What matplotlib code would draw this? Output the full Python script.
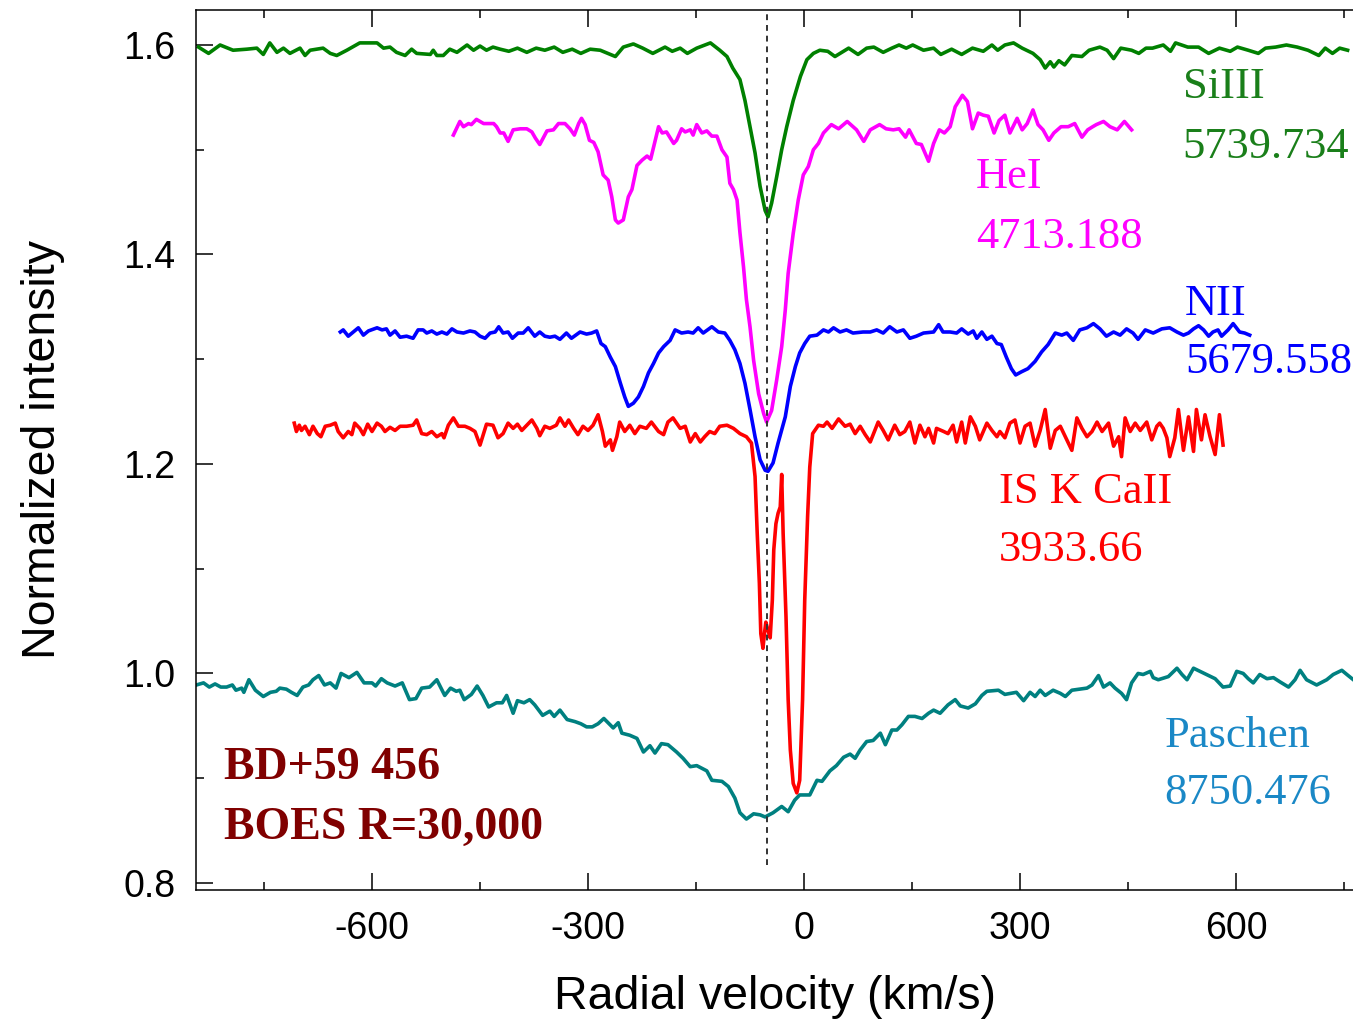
import matplotlib
matplotlib.use("Agg")
import matplotlib.pyplot as plt
from matplotlib.ticker import MultipleLocator

plt.rcParams['font.family'] = ['Liberation Sans', 'DejaVu Sans']
plt.rcParams['axes.unicode_minus'] = False

# SiIII 5739.734 (offset +0.6)
v_si = [-841, -827, -811, -793, -774, -760, -751, -742, -732, -723, -714, -700, -693, -686, -668, -658,
        -649, -635, -617, -593, -584, -575, -566, -554, -545, -538, -519, -515, -510, -501, -492, -482,
        -468, -459, -450, -441, -432, -422, -410, -398, -385, -372, -360, -347, -335, -322, -310, -297,
        -283, -262, -251, -237, -224, -210, -193, -183, -172, -162, -149, -130, -117, -107, -99, -89,
        -82, -75, -68, -61, -54, -50, -45, -38, -31, -24, -15, -5, 4, 13, 22, 33,
        43, 62, 75, 87, 97, 110, 122, 132, 142, 151, 166, 180, 190, 205, 219, 234,
        249, 261, 269, 279, 291, 303, 318, 328, 335, 342, 347, 354, 362, 372, 386, 396,
        411, 421, 430, 440, 455, 465, 475, 484, 499, 509, 516, 533, 548, 562, 577, 592,
        602, 617, 631, 641, 655, 670, 685, 700, 715, 724, 734, 744, 755]
i_si = [1.598, 1.592, 1.600, 1.595, 1.596, 1.597, 1.591, 1.602, 1.593, 1.597, 1.592, 1.597, 1.590, 1.595, 1.597, 1.592,
        1.590, 1.595, 1.602, 1.602, 1.597, 1.598, 1.593, 1.590, 1.596, 1.592, 1.591, 1.595, 1.590, 1.590, 1.596, 1.593,
        1.600, 1.595, 1.599, 1.595, 1.598, 1.596, 1.594, 1.597, 1.593, 1.597, 1.595, 1.598, 1.593, 1.596, 1.592, 1.596,
        1.595, 1.589, 1.598, 1.601, 1.597, 1.592, 1.598, 1.594, 1.597, 1.592, 1.597, 1.602, 1.595, 1.589, 1.578, 1.567,
        1.547, 1.522, 1.497, 1.465, 1.442, 1.436, 1.449, 1.474, 1.500, 1.522, 1.547, 1.570, 1.586, 1.592, 1.595, 1.594,
        1.589, 1.597, 1.591, 1.597, 1.598, 1.593, 1.597, 1.600, 1.597, 1.600, 1.595, 1.597, 1.591, 1.596, 1.591, 1.597,
        1.594, 1.600, 1.595, 1.600, 1.602, 1.597, 1.592, 1.586, 1.578, 1.584, 1.579, 1.585, 1.581, 1.590, 1.589, 1.595,
        1.598, 1.595, 1.587, 1.597, 1.595, 1.592, 1.597, 1.597, 1.600, 1.594, 1.602, 1.598, 1.598, 1.592, 1.597, 1.594,
        1.598, 1.595, 1.592, 1.597, 1.598, 1.600, 1.598, 1.595, 1.590, 1.597, 1.592, 1.597, 1.595]

# HeI 4713.188 (offset +0.52)
v_he = [-487, -478, -473, -466, -462, -455, -445, -431, -427, -422, -417, -411, -404, -394, -385, -378,
        -373, -367, -357, -348, -341, -332, -325, -319, -313, -309, -304, -298, -292, -286, -279, -272,
        -267, -262, -258, -251, -244, -239, -232, -225, -218, -213, -208, -202, -197, -191, -181, -177,
        -170, -165, -158, -154, -149, -142, -135, -128, -121, -114, -107, -103, -98, -93, -89, -84,
        -80, -75, -70, -63, -56, -52, -45, -38, -31, -26, -22, -15, -8, -1, 6, 13,
        20, 27, 38, 48, 60, 73, 83, 92, 105, 114, 124, 132, 141, 146, 156, 163,
        173, 180, 188, 195, 203, 210, 220, 227, 234, 242, 249, 256, 264, 271, 279, 286,
        296, 303, 310, 318, 325, 332, 340, 347, 357, 367, 376, 386, 394, 401, 406, 416,
        425, 435, 445, 455]
i_he = [1.514, 1.527, 1.522, 1.525, 1.524, 1.529, 1.525, 1.525, 1.522, 1.516, 1.516, 1.508, 1.519, 1.520, 1.520, 1.517,
        1.511, 1.505, 1.518, 1.519, 1.525, 1.525, 1.520, 1.514, 1.525, 1.530, 1.524, 1.509, 1.507, 1.498, 1.476, 1.471,
        1.455, 1.433, 1.430, 1.433, 1.455, 1.462, 1.485, 1.490, 1.494, 1.491, 1.505, 1.522, 1.516, 1.517, 1.506, 1.509,
        1.520, 1.517, 1.519, 1.514, 1.524, 1.516, 1.518, 1.513, 1.513, 1.500, 1.493, 1.468, 1.462, 1.452, 1.421, 1.388,
        1.357, 1.331, 1.299, 1.267, 1.248, 1.240, 1.251, 1.280, 1.312, 1.347, 1.382, 1.420, 1.452, 1.476, 1.484, 1.500,
        1.506, 1.516, 1.524, 1.520, 1.527, 1.519, 1.508, 1.519, 1.524, 1.520, 1.519, 1.520, 1.512, 1.519, 1.506, 1.505,
        1.489, 1.506, 1.519, 1.516, 1.522, 1.541, 1.552, 1.546, 1.520, 1.535, 1.533, 1.532, 1.516, 1.528, 1.533, 1.516,
        1.530, 1.519, 1.525, 1.538, 1.524, 1.519, 1.509, 1.516, 1.522, 1.522, 1.525, 1.512, 1.519, 1.522, 1.524, 1.527,
        1.522, 1.519, 1.527, 1.519]

# NII 5679.558 (offset +0.33)
v_n = [-644, -640, -633, -626, -619, -612, -605, -593, -586, -580, -575, -568, -561, -552, -543, -536,
       -529, -524, -517, -510, -503, -496, -489, -482, -473, -464, -457, -450, -443, -436, -429, -424,
       -418, -411, -405, -397, -390, -383, -374, -367, -360, -353, -346, -339, -330, -323, -311, -302,
       -295, -288, -282, -276, -269, -262, -255, -249, -244, -237, -230, -223, -216, -209, -202, -195,
       -186, -179, -170, -161, -154, -147, -140, -128, -119, -110, -103, -96, -89, -82, -75, -68,
       -61, -54, -50, -43, -36, -26, -19, -12, -6, 1, 8, 18, 27, 34, 41, 50,
       59, 68, 82, 92, 101, 110, 119, 129, 138, 147, 156, 166, 180, 187, 193, 203,
       212, 219, 228, 235, 240, 247, 254, 261, 268, 274, 281, 288, 294, 302, 311, 321,
       330, 339, 349, 358, 365, 374, 383, 393, 402, 411, 420, 430, 439, 448, 457, 464,
       474, 485, 497, 508, 518, 527, 534, 541, 548, 555, 562, 568, 575, 580, 589, 596,
       605, 612, 619]
i_n = [1.326, 1.328, 1.322, 1.326, 1.330, 1.323, 1.327, 1.330, 1.328, 1.329, 1.323, 1.327, 1.321, 1.322, 1.320, 1.328,
       1.328, 1.325, 1.327, 1.324, 1.326, 1.324, 1.329, 1.326, 1.325, 1.327, 1.326, 1.322, 1.320, 1.325, 1.326, 1.331,
       1.325, 1.326, 1.320, 1.325, 1.325, 1.330, 1.322, 1.326, 1.322, 1.321, 1.322, 1.319, 1.325, 1.320, 1.326, 1.324,
       1.325, 1.327, 1.315, 1.312, 1.302, 1.293, 1.277, 1.264, 1.255, 1.258, 1.264, 1.274, 1.287, 1.296, 1.306, 1.312,
       1.318, 1.328, 1.325, 1.326, 1.325, 1.330, 1.325, 1.331, 1.326, 1.325, 1.318, 1.309, 1.296, 1.277, 1.252, 1.226,
       1.204, 1.194, 1.193, 1.201, 1.220, 1.245, 1.274, 1.293, 1.306, 1.315, 1.322, 1.323, 1.328, 1.326, 1.330, 1.326,
       1.328, 1.325, 1.326, 1.326, 1.328, 1.325, 1.331, 1.326, 1.328, 1.320, 1.322, 1.325, 1.326, 1.333, 1.326, 1.326,
       1.325, 1.329, 1.324, 1.327, 1.320, 1.326, 1.319, 1.322, 1.315, 1.314, 1.302, 1.291, 1.285, 1.288, 1.291, 1.298,
       1.307, 1.314, 1.325, 1.323, 1.325, 1.318, 1.328, 1.330, 1.334, 1.329, 1.322, 1.326, 1.323, 1.329, 1.325, 1.319,
       1.328, 1.325, 1.329, 1.330, 1.326, 1.323, 1.325, 1.329, 1.332, 1.328, 1.322, 1.326, 1.328, 1.322, 1.328, 1.334,
       1.326, 1.325, 1.323]

# IS K CaII 3933.66 (offset +0.23)
v_ca = [-708, -705, -701, -698, -693, -687, -682, -676, -671, -665, -658, -651, -647, -640, -633, -628,
        -624, -617, -612, -606, -600, -593, -587, -582, -575, -568, -561, -552, -543, -538, -531, -524,
        -517, -510, -503, -500, -494, -487, -480, -471, -464, -457, -450, -441, -432, -425, -418, -411,
        -404, -398, -392, -385, -378, -371, -367, -360, -353, -344, -339, -332, -327, -320, -314, -307,
        -300, -293, -286, -280, -276, -269, -266, -260, -256, -249, -242, -235, -228, -219, -212, -202,
        -195, -189, -182, -172, -165, -158, -151, -144, -138, -131, -124, -117, -107, -98, -89, -80,
        -73, -68, -65, -62, -60, -57, -55, -53, -50, -47, -44, -42, -39, -36, -33, -31,
        -29, -25, -22, -19, -15, -10, -6, -2, 1, 5, 8, 12, 15, 20, 27, 32,
        39, 48, 57, 64, 71, 78, 85, 92, 103, 110, 117, 126, 133, 140, 147, 154,
        161, 168, 173, 180, 184, 194, 200, 207, 212, 219, 224, 231, 238, 244, 254, 261,
        268, 272, 279, 286, 293, 300, 307, 314, 321, 328, 335, 342, 349, 356, 365, 372,
        379, 386, 393, 400, 407, 414, 423, 430, 437, 441, 446, 453, 460, 467, 476, 483,
        490, 494, 499, 504, 508, 515, 520, 527, 534, 541, 545, 552, 557, 564, 571, 577,
        582]
i_ca = [1.239, 1.231, 1.237, 1.232, 1.236, 1.228, 1.236, 1.229, 1.226, 1.236, 1.237, 1.239, 1.231, 1.225, 1.231, 1.228,
        1.239, 1.234, 1.228, 1.238, 1.231, 1.239, 1.236, 1.231, 1.235, 1.232, 1.236, 1.236, 1.237, 1.242, 1.229, 1.228,
        1.231, 1.226, 1.229, 1.225, 1.237, 1.244, 1.236, 1.236, 1.234, 1.231, 1.218, 1.238, 1.237, 1.225, 1.229, 1.239,
        1.234, 1.238, 1.232, 1.237, 1.242, 1.234, 1.227, 1.236, 1.234, 1.237, 1.244, 1.236, 1.242, 1.234, 1.228, 1.236,
        1.232, 1.237, 1.247, 1.231, 1.217, 1.223, 1.213, 1.226, 1.240, 1.231, 1.237, 1.229, 1.236, 1.234, 1.240, 1.231,
        1.228, 1.240, 1.244, 1.234, 1.236, 1.221, 1.229, 1.221, 1.226, 1.231, 1.229, 1.236, 1.237, 1.234, 1.229, 1.226,
        1.220, 1.188, 1.134, 1.086, 1.038, 1.024, 1.038, 1.049, 1.041, 1.034, 1.070, 1.118, 1.143, 1.153, 1.159, 1.190,
        1.134, 1.054, 0.975, 0.927, 0.895, 0.886, 0.898, 0.975, 1.070, 1.150, 1.197, 1.229, 1.232, 1.237, 1.236, 1.240,
        1.234, 1.243, 1.236, 1.238, 1.229, 1.236, 1.228, 1.221, 1.240, 1.232, 1.223, 1.237, 1.228, 1.231, 1.240, 1.220,
        1.237, 1.226, 1.234, 1.220, 1.234, 1.231, 1.229, 1.237, 1.221, 1.240, 1.220, 1.245, 1.236, 1.223, 1.239, 1.232,
        1.226, 1.231, 1.225, 1.239, 1.242, 1.220, 1.236, 1.239, 1.217, 1.232, 1.252, 1.215, 1.232, 1.236, 1.223, 1.213,
        1.244, 1.234, 1.226, 1.231, 1.240, 1.231, 1.239, 1.217, 1.226, 1.207, 1.244, 1.231, 1.239, 1.232, 1.240, 1.223,
        1.236, 1.239, 1.234, 1.225, 1.207, 1.225, 1.252, 1.213, 1.245, 1.212, 1.252, 1.223, 1.247, 1.226, 1.209, 1.247,
        1.218]

# Paschen 8750.476
v_pa = [-844, -834, -826, -818, -810, -802, -794, -789, -781, -778, -771, -762, -751, -741, -733, -728,
        -719, -712, -704, -696, -688, -682, -674, -666, -658, -650, -643, -632, -621, -611, -600, -595,
        -587, -579, -568, -558, -548, -539, -531, -520, -510, -499, -491, -483, -478, -472, -462, -454,
        -446, -438, -427, -419, -413, -404, -398, -389, -381, -374, -363, -353, -347, -339, -329, -318,
        -310, -302, -294, -286, -278, -265, -258, -253, -242, -232, -223, -214, -207, -198, -189, -177,
        -168, -158, -149, -135, -128, -114, -105, -96, -89, -80, -70, -61, -54, -43, -31, -22,
        -13, -6, 8, 18, 25, 36, 45, 55, 64, 71, 78, 87, 96, 106, 113, 122,
        129, 136, 145, 154, 164, 173, 180, 189, 200, 210, 217, 228, 238, 247, 254, 270,
        279, 295, 305, 314, 321, 328, 335, 346, 356, 363, 372, 393, 400, 409, 416, 425,
        432, 441, 448, 455, 464, 471, 481, 485, 492, 506, 518, 525, 532, 541, 550, 559,
        571, 582, 592, 601, 610, 617, 624, 633, 643, 652, 661, 673, 682, 689, 698, 712,
        726, 735, 747, 754, 763]
i_pa = [0.989, 0.991, 0.987, 0.990, 0.987, 0.987, 0.989, 0.984, 0.986, 0.982, 0.994, 0.984, 0.978, 0.982, 0.983, 0.986,
        0.985, 0.982, 0.979, 0.987, 0.989, 0.994, 0.998, 0.989, 0.991, 0.986, 1.000, 0.996, 1.001, 0.991, 0.991, 0.988,
        0.995, 0.991, 0.988, 0.991, 0.975, 0.976, 0.986, 0.987, 0.994, 0.979, 0.986, 0.983, 0.984, 0.975, 0.980, 0.988,
        0.979, 0.968, 0.972, 0.972, 0.979, 0.962, 0.974, 0.972, 0.975, 0.970, 0.960, 0.964, 0.959, 0.965, 0.956, 0.954,
        0.952, 0.949, 0.949, 0.952, 0.957, 0.948, 0.953, 0.943, 0.941, 0.938, 0.925, 0.931, 0.924, 0.933, 0.932, 0.925,
        0.919, 0.911, 0.912, 0.907, 0.898, 0.897, 0.892, 0.881, 0.867, 0.861, 0.866, 0.865, 0.863, 0.867, 0.873, 0.868,
        0.879, 0.884, 0.884, 0.898, 0.897, 0.907, 0.912, 0.920, 0.923, 0.919, 0.927, 0.935, 0.936, 0.943, 0.932, 0.946,
        0.946, 0.951, 0.959, 0.959, 0.957, 0.962, 0.965, 0.962, 0.970, 0.975, 0.969, 0.967, 0.971, 0.979, 0.983, 0.984,
        0.980, 0.982, 0.974, 0.982, 0.978, 0.984, 0.979, 0.984, 0.981, 0.978, 0.984, 0.986, 0.989, 0.998, 0.987, 0.991,
        0.986, 0.981, 0.975, 0.991, 1.000, 0.999, 1.002, 0.996, 0.994, 0.997, 1.005, 0.999, 0.994, 1.005, 1.002, 0.999,
        0.995, 0.987, 0.988, 1.002, 1.000, 0.995, 0.991, 0.999, 0.995, 0.996, 0.992, 0.987, 0.994, 1.003, 0.994, 0.989,
        0.994, 0.999, 1.003, 0.999, 0.994]

v_rest = -51.4

fig = plt.figure(figsize=(13.53, 10.22), dpi=100)
ax = fig.add_axes([0.1449, 0.1292, 0.8551, 0.861])

ax.plot(v_pa, i_pa, color='#008080', lw=2.6)
ax.plot(v_ca, i_ca, color='#ff0000', lw=2.6)
ax.plot(v_n, i_n, color='#0000ff', lw=2.6)
ax.plot(v_he, i_he, color='#ff00ff', lw=2.6)
ax.plot(v_si, i_si, color='#008000', lw=2.6)
ax.plot([v_rest, v_rest], [0.817, 1.631], color='#333333', lw=1.4, linestyle=(0, (3, 2.5)))

ax.set_xlim(-844.4, 762.5)
ax.set_ylim(0.7933, 1.6334)

ax.xaxis.set_major_locator(MultipleLocator(300))
ax.xaxis.set_minor_locator(MultipleLocator(150))
ax.yaxis.set_major_locator(MultipleLocator(0.2))
ax.yaxis.set_minor_locator(MultipleLocator(0.1))
ax.tick_params(which='both', direction='in', top=True, right=False, width=1.1, labelsize=27)
ax.tick_params(which='major', length=12, pad=15)
ax.tick_params(which='minor', length=6)
ax.spines['right'].set_visible(False)
for s in ['left', 'bottom', 'top']:
    ax.spines[s].set_linewidth(1.1)

ax.set_xlabel("Radial velocity (km/s)", fontsize=33.5, labelpad=20)
ax.set_ylabel("Normalized intensity", fontsize=33.5, labelpad=42)

serif = ['Liberation Serif', 'DejaVu Serif']
ax.text(526, 1.549, "SiIII", color='#1a7f1a', fontsize=32, family=serif)
ax.text(526, 1.492, "5739.734", color='#1a7f1a', fontsize=32, family=serif)
ax.text(239, 1.4635, "HeI", color='#ff00ff', fontsize=32, family=serif)
ax.text(239, 1.406, "4713.188", color='#ff00ff', fontsize=32, family=serif)
ax.text(529, 1.342, "NII", color='#0000ff', fontsize=32, family=serif)
ax.text(529, 1.287, "5679.558", color='#0000ff', fontsize=32, family=serif)
ax.text(271, 1.163, "IS K CaII", color='#ff0000', fontsize=32, family=serif)
ax.text(271, 1.107, "3933.66", color='#ff0000', fontsize=32, family=serif)
ax.text(501, 0.930, "Paschen", color='#1a88c6', fontsize=32, family=serif)
ax.text(501, 0.875, "8750.476", color='#1a88c6', fontsize=32, family=serif)
ax.text(-805, 0.899, "BD+59 456", color='#800000', fontsize=33, family=serif, weight='bold')
ax.text(-805, 0.842, "BOES R=30,000", color='#800000', fontsize=33, family=serif, weight='bold')

fig.savefig("out.png", dpi=100)
